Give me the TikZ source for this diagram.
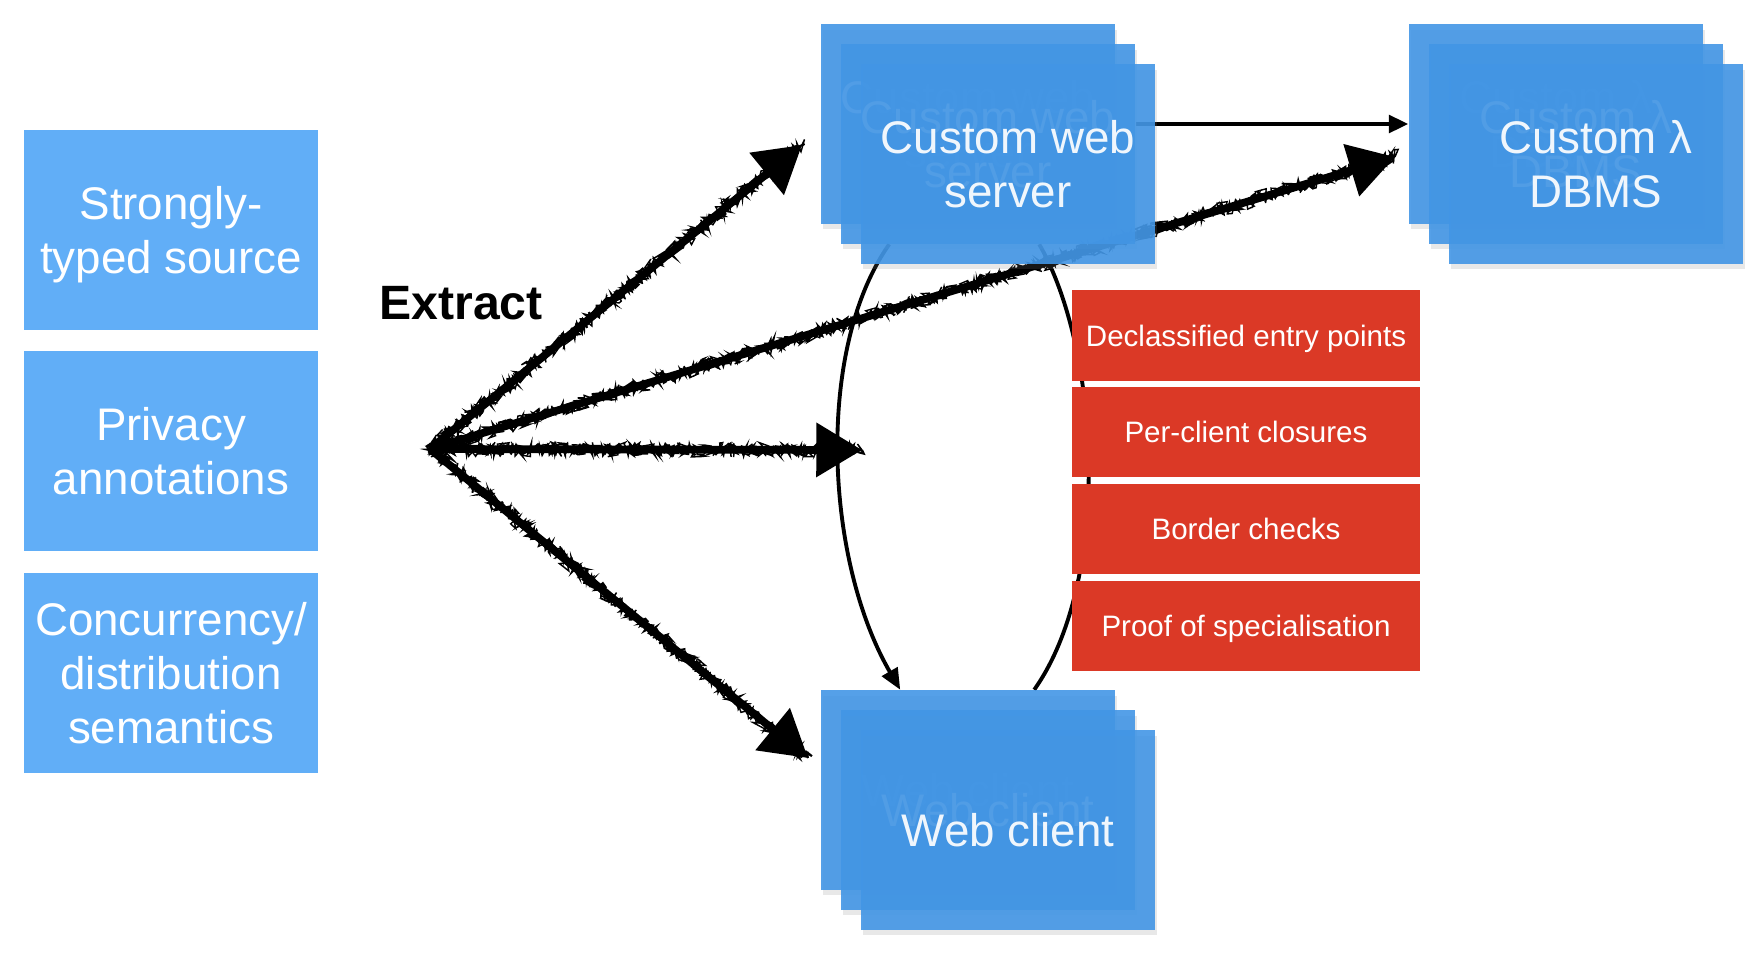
\documentclass[tikz,border=0pt]{standalone}
\usepackage{fontspec}
\setmainfont{Liberation Sans}
\usepackage{tikz}
\usetikzlibrary{arrows.meta, positioning, calc, decorations.pathmorphing, shadows, backgrounds}
\definecolor{srcblue}{RGB}{97,174,247}
\definecolor{stackblue}{RGB}{66,150,230}
\definecolor{checkred}{RGB}{219,57,38}

\begin{document}
\begin{tikzpicture}[x=0.01cm, y=-0.01cm,
  srcbox/.style={fill=srcblue, text=white, minimum width=2.93cm, minimum height=2cm,
    inner sep=0pt, align=center, text depth=0pt, font=\fontsize{13}{15.3}\selectfont},
  stackbox/.style={fill=stackblue, fill opacity=0.9, text=white, text opacity=0.92,
    minimum width=2.94cm, minimum height=1.99cm, inner sep=0pt, align=center,
    font=\fontsize{13}{15.3}\selectfont,
    drop shadow={opacity=0.18, shadow xshift=0.6pt, shadow yshift=-1.6pt}},
  redbox/.style={fill=checkred, text=white, minimum width=3.47cm, minimum height=0.9cm,
    inner sep=0pt, text height=6pt, text depth=0pt, font=\fontsize{8.4}{10}\selectfont},
  chalk/.style={line width=2.2pt, -{Triangle[length=13pt, width=15pt]},
    preaction={draw, -, line width=0.6pt, decorate,
      decoration={random steps, segment length=0.5pt, amplitude=1.6pt}},
    preaction={draw, -, line width=0.4pt, decorate,
      decoration={random steps, segment length=0.4pt, amplitude=2.1pt}}},
  link/.style={line width=1.1pt}]
  \pgfmathsetseed{7}
  \useasboundingbox (0,0) rectangle (1752,954);

  % Source side
  \node[srcbox] (typed) at (171,229.6) {Strongly-\\typed source};
  \node[srcbox, below=0.2cm of typed] (privacy) {Privacy\\annotations};
  \node[srcbox, below=0.2cm of privacy] (conc) {Concurrency/\\distribution\\semantics};

  \node[font=\fontsize{13.7}{16}\selectfont\bfseries, inner sep=0pt] (extract) at (461,303) {Extract};

  % Generated components, three copies each
  \foreach \i/\d in {1/0, 2/20, 3/40} {
    \node[stackbox] (srv\i) at (968+\d,124+\d) {Custom web\\server};
    \node[stackbox] (dbms\i) at (1556+\d,124+\d) {Custom λ\\DBMS};
    \node[stackbox] (cli\i) at (968+\d,790+\d) {Web client};
  }

  % Checks
  \node[redbox] (decl) at (1246,335.5) {Declassified entry points};
  \node[redbox, below=0.053cm of decl] (closures) {Per-client closures};
  \node[redbox, below=0.053cm of closures] (border) {Border checks};
  \node[redbox, below=0.053cm of border] (proof) {Proof of specialisation};

  % Connectors go behind the boxes
  \begin{scope}[on background layer]
    \coordinate (fan) at (430,449);
    \coordinate (toSrv) at (802,145);
    \coordinate (toDb) at (1395,157);
    \coordinate (toMid) at (862,450);
    \coordinate (toCli) at (808,758);

    \draw[link, -{Triangle[length=6pt, width=5pt]}] ($(srv2.south west)+(49,0)$)
      .. controls (815,350) and (825,560) .. ($(cli1.north west)+(80,0)$);
    \draw[link] ($(cli1.north west)+(214,0)$)
      .. controls (1112,580) and (1100,350) .. ($(srv2.south west)+(199,0)$);
    \draw[link, -{Triangle[length=5.5pt, width=5pt]}] (srv2.east |- dbms1.west) -- (dbms1.west);

    % Extraction
    \foreach \t in {toSrv, toDb, toMid, toCli}
      \draw[chalk] (fan) -- (\t);
  \end{scope}
\end{tikzpicture}
\end{document}
